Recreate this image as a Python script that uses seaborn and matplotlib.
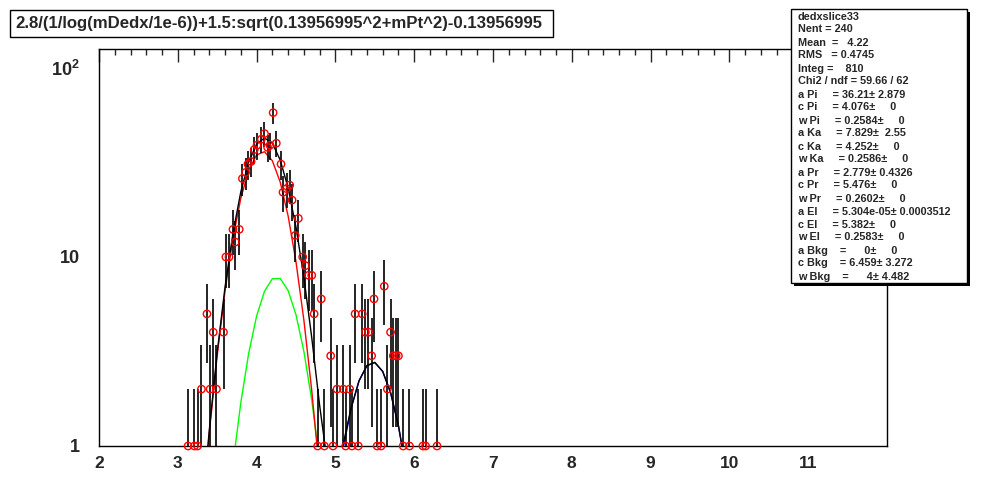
import numpy as np
import pandas as pd
import seaborn as sns
import matplotlib.pyplot as plt
from matplotlib.patches import Rectangle
from matplotlib.ticker import FixedLocator, FixedFormatter, NullFormatter

#Histogram points (bin centre, entries)
bin_x = [3.13, 3.21, 3.25, 3.30, 3.37, 3.41, 3.45, 3.49, 3.58, 3.61, 3.65, 3.70, 3.73, 3.78,
         3.82, 3.86, 3.89, 3.93, 3.97, 4.005, 4.06, 4.10, 4.14, 4.17, 4.21, 4.25, 4.31, 4.335,
         4.38, 4.42, 4.45, 4.49, 4.53, 4.585, 4.62, 4.66, 4.70, 4.73, 4.775, 4.82, 4.86, 4.94,
         4.97, 5.02, 5.10, 5.13, 5.18, 5.21, 5.25, 5.29, 5.34, 5.38, 5.42, 5.46, 5.49, 5.53,
         5.58, 5.62, 5.66, 5.70, 5.735, 5.77, 5.80, 5.86, 5.94, 6.11, 6.145, 6.29]
bin_n = [1, 1, 1, 2, 5, 2, 4, 2, 4, 10, 10, 14, 12, 14,
         26, 28, 31, 32, 37, 39, 42, 45, 38, 39, 58, 40, 31, 22,
         23, 24, 20, 13, 16, 10, 9, 8, 8, 5, 1, 6, 1, 3,
         1, 2, 2, 1, 2, 1, 5, 1, 5, 4, 4, 3, 6, 1,
         1, 7, 2, 4, 3, 3, 3, 1, 1, 1, 1, 1]

#Fit parameters from the stats box
comp_names = ["Pi", "Ka", "Pr", "El", "Bkg"]
comp_a = [36.21, 7.829, 2.779, 5.304e-05, 0.0]
comp_c = [4.076, 4.252, 5.476, 5.382, 6.459]
comp_w = [0.2584, 0.2586, 0.2602, 0.2583, 4.0]
comp_colors = {"Pi": "#ff0000", "Ka": "#00ff00", "Pr": "#0000ff"}

title_text = "2.8/(1/log(mDedx/1e-6))+1.5:sqrt(0.13956995^2+mPt^2)-0.13956995"
stats_lines = ["dedxslice33", "Nent = 240", "Mean  =   4.22", "RMS   = 0.4745",
               "Integ =    810", "Chi2 / ndf = 59.66 / 62",
               "a Pi     = 36.21\u00b1 2.879", "c Pi     = 4.076\u00b1     0",
               "w Pi     = 0.2584\u00b1     0", "a Ka     = 7.829\u00b1  2.55",
               "c Ka     = 4.252\u00b1     0", "w Ka     = 0.2586\u00b1     0",
               "a Pr     = 2.779\u00b1 0.4326", "c Pr     = 5.476\u00b1     0",
               "w Pr     = 0.2602\u00b1     0", "a El     = 5.304e-05\u00b1 0.0003512",
               "c El     = 5.382\u00b1     0", "w El     = 0.2583\u00b1     0",
               "a Bkg    =      0\u00b1     0", "c Bkg    = 6.459\u00b1 3.272",
               "w Bkg    =      4\u00b1 4.482"]
x_ticks = [2, 3, 4, 5, 6, 7, 8, 9, 10, 11]
y_ticks = [1, 10, 100]
y_labels = ["1", "10", "10$^{2}$"]

sns.set_style("white")
plt.rcParams["font.family"] = ["Liberation Sans", "DejaVu Sans"]
plt.rcParams["mathtext.fontset"] = "custom"
plt.rcParams["mathtext.rm"] = "Liberation Sans:bold"
plt.rcParams["mathtext.bf"] = "Liberation Sans:bold"

W, H = 986, 497
fig = plt.figure(figsize=(W / 100, H / 100), dpi=100)
fig.patch.set_facecolor("white")
ax = fig.add_axes([99 / W, 1 - 446 / H, (887 - 99) / W, (446 - 49) / H])

df = pd.DataFrame({"x": bin_x, "n": bin_n})
df["err"] = np.sqrt(df["n"])

#Fit curves, sampled like a TF1 with 100 points
xs = np.linspace(2, 12, 101)
comps = {}
for name, a, c, w in zip(comp_names, comp_a, comp_c, comp_w):
    comps[name] = a * np.exp(-0.5 * ((xs - c) / w) ** 2)
total = sum(comps.values())

for name in ["Pr", "Ka", "Pi"]:
    sns.lineplot(x=xs, y=comps[name], color=comp_colors[name], linewidth=1.0,
                 estimator=None, sort=False, ax=ax, zorder=3)
sns.lineplot(x=xs, y=total, color="black", linewidth=1.0,
             estimator=None, sort=False, ax=ax, zorder=4)

#Error bars and markers
ax.vlines(df["x"], df["n"] - df["err"], df["n"] + df["err"], color="black",
          linewidth=1.2, zorder=5)
sns.scatterplot(data=df, x="x", y="n", marker="o", s=28, facecolors="none",
                edgecolor="#ff0000", linewidth=1.0, ax=ax, zorder=6, clip_on=False)

ax.set_yscale("log")
ax.set_xlim(2, 12)
ax.set_ylim(1, 126)
ax.set_xlabel("")
ax.set_ylabel("")

ax.xaxis.set_major_locator(FixedLocator(x_ticks))
ax.xaxis.set_minor_locator(FixedLocator(np.arange(2, 12.01, 0.2)))
ax.yaxis.set_major_locator(FixedLocator(y_ticks))
ax.yaxis.set_major_formatter(FixedFormatter(y_labels))
ax.yaxis.set_minor_locator(FixedLocator([2, 3, 4, 5, 6, 7, 8, 9, 20, 30, 40, 50, 60, 70, 80, 90]))
ax.yaxis.set_minor_formatter(NullFormatter())
ax.tick_params(axis="x", which="major", direction="in", length=9, width=1, top=True,
               labelsize=12.5, pad=7)
ax.tick_params(axis="x", which="minor", direction="in", length=4.5, width=1, top=True)
ax.tick_params(axis="y", which="major", direction="in", length=17, width=1,
               labelsize=13, pad=14)
ax.tick_params(axis="y", which="minor", direction="in", length=8.5, width=1)
for lab in ax.get_xticklabels() + ax.get_yticklabels():
    lab.set_fontweight("bold")
for sp in ax.spines.values():
    sp.set_color("black")
    sp.set_linewidth(1.0)

#Title box
def fig_rect(x0, y0, x1, y1, **kw):
    return Rectangle((x0 / W, 1 - y1 / H), (x1 - x0) / W, (y1 - y0) / H,
                     transform=fig.transFigure, **kw)

fig.patches.append(fig_rect(10, 10, 553, 37, facecolor="white", edgecolor="black",
                            linewidth=1.0, zorder=10))
fig.text(15 / W, 1 - 23.5 / H, title_text, fontsize=12.1, fontweight="bold",
         va="center", ha="left", zorder=11)

#Stats box with shadow
fig.patches.append(fig_rect(794, 12, 970, 286, facecolor="black", edgecolor="black",
                            linewidth=0, zorder=10))
fig.patches.append(fig_rect(791, 9, 967, 283, facecolor="white", edgecolor="black",
                            linewidth=1.0, zorder=11))
for i, line in enumerate(stats_lines):
    fig.text(798 / W, 1 - (16.5 + i * 13.0) / H, line, fontsize=7.8, fontweight="bold",
             family=["Liberation Sans Narrow", "Liberation Sans"],
             va="center", ha="left", zorder=12)

fig.savefig("out.png", dpi=100)
